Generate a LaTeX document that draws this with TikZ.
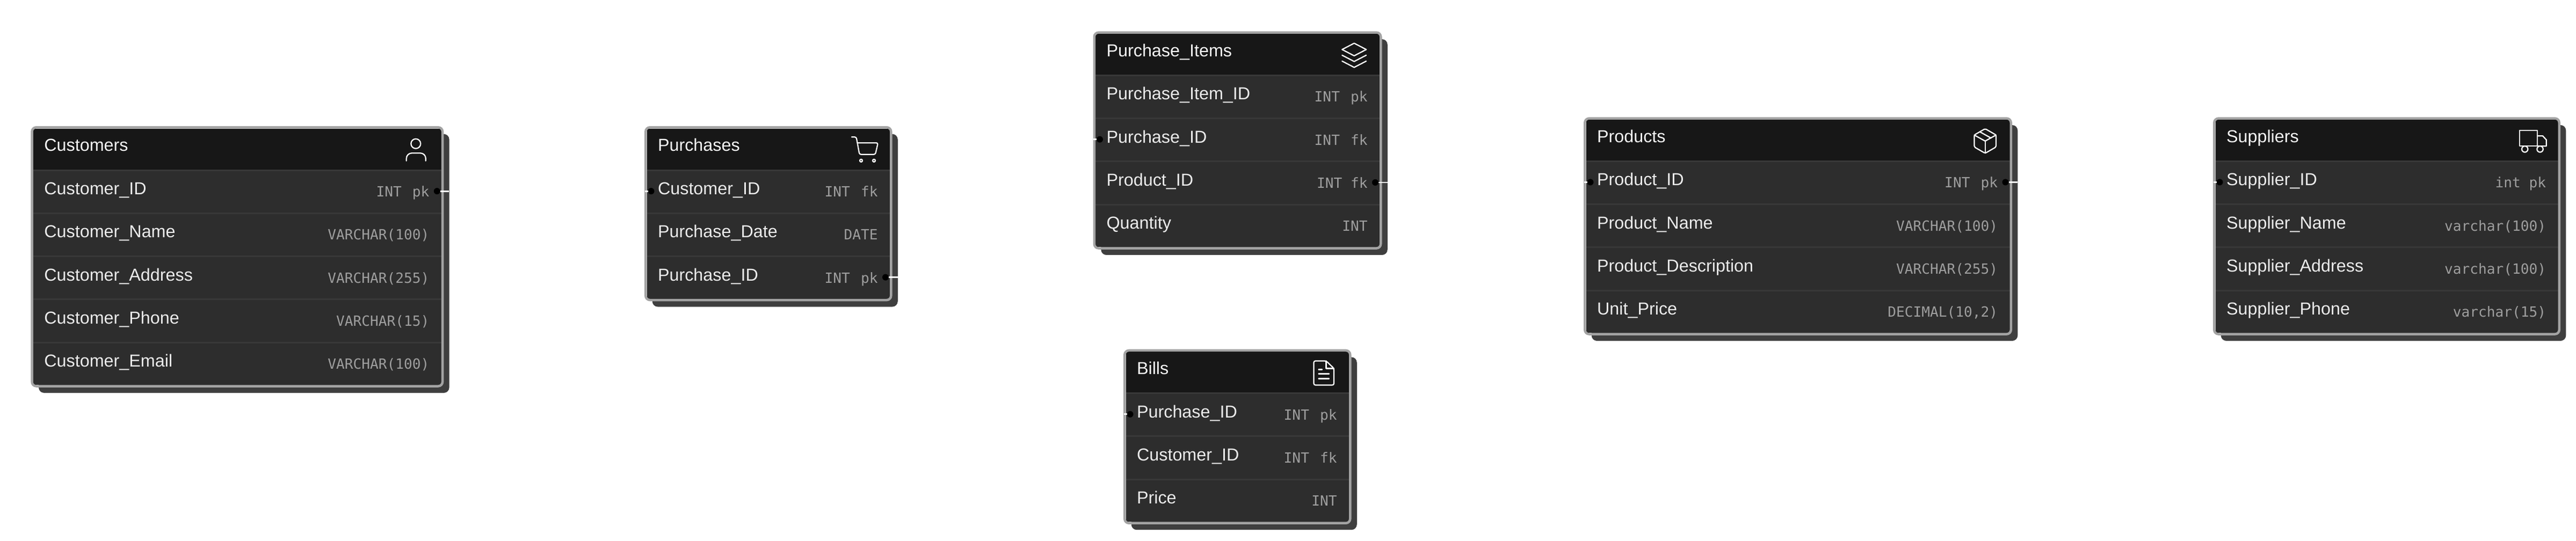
\documentclass[tikz,border=0pt]{standalone}
\usepackage{fontspec}
\setmainfont{Liberation Sans}
\setmonofont{DejaVu Sans Mono}
\usepackage{xcolor}
\usepackage{tikz}
\usetikzlibrary{positioning, fit, backgrounds}
\definecolor{headgrey}{HTML}{171717}
\definecolor{rowgrey}{HTML}{2D2D2D}
\definecolor{sepgrey}{HTML}{383838}
\definecolor{framegrey}{HTML}{A3A3A3}
\definecolor{shadowgrey}{HTML}{3F3F3F}
\tikzset{
  tablehead/.style={rectangle, fill=headgrey, text=white!96!black, outer sep=0pt, inner ysep=0pt, inner xsep=0.41cm, text width=#1-0.82cm, align=left, text height=0.844cm, text depth=0.686cm, font=\fontsize{18.4}{22}\selectfont},
  fieldrow/.style={rectangle, fill=rowgrey, text=white!92!black, outer sep=0pt, inner ysep=0pt, inner xsep=0.41cm, text width=#1-0.82cm, align=left, text height=0.93cm, text depth=0.675cm, font=\fontsize{18.4}{22}\selectfont, path picture={\draw[sepgrey, line width=0.1cm] (path picture bounding box.north west) -- (path picture bounding box.north east);}},
  fieldtype/.style={anchor=base east, xshift=-0.44cm, yshift=-0.08cm, inner sep=0pt, text=white!62!black, font=\fontsize{14.9}{18}\selectfont\ttfamily},
  tableframe/.style={rectangle, rounded corners=0.16cm, draw=framegrey, line width=0.09cm, inner sep=0.045cm, outer sep=0pt},
  shadowbox/.style={rectangle, rounded corners=0.2cm, fill=shadowgrey, inner sep=0pt, outer sep=0pt, xshift=0.25cm, yshift=-0.25cm},
  portdot/.style={circle, fill=black, minimum size=0.24cm, inner sep=0pt, outer sep=0pt},
  stub/.style={draw=white, line width=0.055cm},
  iconline/.style={draw=white, line width=0.045cm, line join=round, line cap=round}
}
\begin{document}
\begin{tikzpicture}
\useasboundingbox (0,0) rectangle (95.94,-20.14);

% Customers table
\node (customers_head) [tablehead=15.2cm, anchor=north west] at (1.236,-4.79) {Customers};
\node (customers_id) [fieldrow=15.2cm, below=0pt of customers_head] {Customer\_ID};
\node (customers_name) [fieldrow=15.2cm, below=0pt of customers_id] {Customer\_Name};
\node (customers_address) [fieldrow=15.2cm, below=0pt of customers_name] {Customer\_Address};
\node (customers_phone) [fieldrow=15.2cm, below=0pt of customers_address] {Customer\_Phone};
\node (customers_email) [fieldrow=15.2cm, below=0pt of customers_phone] {Customer\_Email};
\node (customers_id_type) [fieldtype] at (customers_id.base east) {INT~\,pk};
\node (customers_name_type) [fieldtype] at (customers_name.base east) {VARCHAR(100)};
\node (customers_address_type) [fieldtype] at (customers_address.base east) {VARCHAR(255)};
\node (customers_phone_type) [fieldtype] at (customers_phone.base east) {VARCHAR(15)};
\node (customers_email_type) [fieldtype] at (customers_email.base east) {VARCHAR(100)};
\node (customers) [tableframe, fit=(customers_head)(customers_email)] {};
% person icon
\draw [iconline, shift={(customers_head.east)}] (-0.95,0.2) circle (0.18);
\draw [iconline, shift={(customers_head.east)}, rounded corners=0.2cm] (-1.3,-0.44) -- (-1.3,-0.15) -- (-0.58,-0.15) -- (-0.58,-0.44);

% Purchases table
\node (purchases_head) [tablehead=9.05cm, anchor=north west] at (24.09,-4.79) {Purchases};
\node (purchases_customer) [fieldrow=9.05cm, below=0pt of purchases_head] {Customer\_ID};
\node (purchases_date) [fieldrow=9.05cm, below=0pt of purchases_customer] {Purchase\_Date};
\node (purchases_id) [fieldrow=9.05cm, below=0pt of purchases_date] {Purchase\_ID};
\node (purchases_customer_type) [fieldtype] at (purchases_customer.base east) {INT~\,fk};
\node (purchases_date_type) [fieldtype] at (purchases_date.base east) {DATE};
\node (purchases_id_type) [fieldtype] at (purchases_id.base east) {INT~\,pk};
\node (purchases) [tableframe, fit=(purchases_head)(purchases_id)] {};
% cart icon
\draw [iconline, shift={(purchases_head.east)}, rounded corners=0.06cm] (-1.42,0.45) -- (-1.25,0.45) -- (-1.13,-0.2) -- (-0.54,-0.2) -- (-0.44,0.23) -- (-1.21,0.23);
\draw [iconline, shift={(purchases_head.east)}] (-1.07,-0.43) circle (0.05);
\draw [iconline, shift={(purchases_head.east)}] (-0.59,-0.43) circle (0.05);

% Purchase_Items table
\node (items_head) [tablehead=10.58cm, anchor=north west] at (40.8,-1.256) {Purchase\_Items};
\node (items_id) [fieldrow=10.58cm, below=0pt of items_head] {Purchase\_Item\_ID};
\node (items_purchase) [fieldrow=10.58cm, below=0pt of items_id] {Purchase\_ID};
\node (items_product) [fieldrow=10.58cm, below=0pt of items_purchase] {Product\_ID};
\node (items_quantity) [fieldrow=10.58cm, below=0pt of items_product] {Quantity};
\node (items_id_type) [fieldtype] at (items_id.base east) {INT~\,pk};
\node (items_purchase_type) [fieldtype] at (items_purchase.base east) {INT~\,fk};
\node (items_product_type) [fieldtype] at (items_product.base east) {INT fk};
\node (items_quantity_type) [fieldtype] at (items_quantity.base east) {INT};
\node (items) [tableframe, fit=(items_head)(items_quantity)] {};
% layers icon
\draw [iconline, shift={(items_head.east)}] (-1.396,0.176) -- (-0.946,0.41) -- (-0.496,0.176) -- (-0.946,-0.058) -- cycle;
\draw [iconline, shift={(items_head.east)}] (-1.396,-0.036) -- (-0.946,-0.27) -- (-0.496,-0.036);
\draw [iconline, shift={(items_head.east)}] (-1.396,-0.256) -- (-0.946,-0.49) -- (-0.496,-0.256);

% Bills table
\node (bills_head) [tablehead=8.31cm, anchor=north west] at (41.93,-13.104) {Bills};
\node (bills_purchase) [fieldrow=8.31cm, below=0pt of bills_head] {Purchase\_ID};
\node (bills_customer) [fieldrow=8.31cm, below=0pt of bills_purchase] {Customer\_ID};
\node (bills_price) [fieldrow=8.31cm, below=0pt of bills_customer] {Price};
\node (bills_purchase_type) [fieldtype] at (bills_purchase.base east) {INT~\,pk};
\node (bills_customer_type) [fieldtype] at (bills_customer.base east) {INT~\,fk};
\node (bills_price_type) [fieldtype] at (bills_price.base east) {INT};
\node (bills) [tableframe, fit=(bills_head)(bills_price)] {};
% document icon
\draw [iconline, shift={(bills_head.east)}, rounded corners=0.06cm] (-1.31,0.42) -- (-0.85,0.42) -- (-0.56,0.14) -- (-0.56,-0.48) -- (-1.31,-0.48) -- cycle;
\draw [iconline, shift={(bills_head.east)}] (-0.85,0.42) -- (-0.85,0.14) -- (-0.56,0.14);
\draw [iconline, shift={(bills_head.east)}] (-1.13,0.1) -- (-1.0,0.1);
\draw [iconline, shift={(bills_head.east)}] (-1.13,-0.06) -- (-0.74,-0.06);
\draw [iconline, shift={(bills_head.east)}] (-1.13,-0.24) -- (-0.74,-0.24);

% Products table
\node (products_head) [tablehead=15.78cm, anchor=north west] at (59.07,-4.456) {Products};
\node (products_id) [fieldrow=15.78cm, below=0pt of products_head] {Product\_ID};
\node (products_name) [fieldrow=15.78cm, below=0pt of products_id] {Product\_Name};
\node (products_description) [fieldrow=15.78cm, below=0pt of products_name] {Product\_Description};
\node (products_price) [fieldrow=15.78cm, below=0pt of products_description] {Unit\_Price};
\node (products_id_type) [fieldtype] at (products_id.base east) {INT~\,pk};
\node (products_name_type) [fieldtype] at (products_name.base east) {VARCHAR(100)};
\node (products_description_type) [fieldtype] at (products_description.base east) {VARCHAR(255)};
\node (products_price_type) [fieldtype] at (products_price.base east) {DECIMAL(10,2)};
\node (products) [tableframe, fit=(products_head)(products_price)] {};
% box icon
\draw [iconline, shift={(products_head.east)}, rounded corners=0.04cm] (-0.916,0.424) -- (-0.51,0.19) -- (-0.51,-0.256) -- (-0.916,-0.49) -- (-1.322,-0.256) -- (-1.322,0.19) -- cycle;
\draw [iconline, shift={(products_head.east)}] (-1.322,0.19) -- (-0.916,-0.036) -- (-0.51,0.19);
\draw [iconline, shift={(products_head.east)}] (-0.916,-0.036) -- (-0.916,-0.49);
\draw [iconline, shift={(products_head.east)}] (-1.116,0.31) -- (-0.696,0.076);

% Suppliers table
\node (suppliers_head) [tablehead=12.76cm, anchor=north west] at (82.51,-4.456) {Suppliers};
\node (suppliers_id) [fieldrow=12.76cm, below=0pt of suppliers_head] {Supplier\_ID};
\node (suppliers_name) [fieldrow=12.76cm, below=0pt of suppliers_id] {Supplier\_Name};
\node (suppliers_address) [fieldrow=12.76cm, below=0pt of suppliers_name] {Supplier\_Address};
\node (suppliers_phone) [fieldrow=12.76cm, below=0pt of suppliers_address] {Supplier\_Phone};
\node (suppliers_id_type) [fieldtype] at (suppliers_id.base east) {int pk};
\node (suppliers_name_type) [fieldtype] at (suppliers_name.base east) {varchar(100)};
\node (suppliers_address_type) [fieldtype] at (suppliers_address.base east) {varchar(100)};
\node (suppliers_phone_type) [fieldtype] at (suppliers_phone.base east) {varchar(15)};
\node (suppliers) [tableframe, fit=(suppliers_head)(suppliers_phone)] {};
% truck icon
\draw [iconline, shift={(suppliers_head.east)}] (-1.424,0.356) rectangle (-0.77,-0.224);
\draw [iconline, shift={(suppliers_head.east)}] (-0.77,0.156) -- (-0.57,0.156) -- (-0.436,0.01) -- (-0.436,-0.224) -- (-0.77,-0.224);
\draw [iconline, fill=headgrey, shift={(suppliers_head.east)}] (-1.236,-0.336) circle (0.114);
\draw [iconline, fill=headgrey, shift={(suppliers_head.east)}] (-0.67,-0.336) circle (0.114);

% Shadows behind the tables
\begin{scope}[on background layer]
\node (customers_shadow) [shadowbox, fit=(customers)] {};
\node (purchases_shadow) [shadowbox, fit=(purchases)] {};
\node (items_shadow) [shadowbox, fit=(items)] {};
\node (bills_shadow) [shadowbox, fit=(bills)] {};
\node (products_shadow) [shadowbox, fit=(products)] {};
\node (suppliers_shadow) [shadowbox, fit=(suppliers)] {};
\end{scope}

% Ports on the key rows
\node (port_customers) [portdot, xshift=-0.16cm] at (customers_id.east) {};
\node (port_purchases_in) [portdot, xshift=0.16cm] at (purchases_customer.west) {};
\node (port_purchases_out) [portdot, xshift=-0.16cm] at (purchases_id.east) {};
\node (port_items_in) [portdot, xshift=0.16cm] at (items_purchase.west) {};
\node (port_items_out) [portdot, xshift=-0.16cm] at (items_product.east) {};
\node (port_bills) [portdot, xshift=0.16cm] at (bills_purchase.west) {};
\node (port_products_in) [portdot, xshift=0.16cm] at (products_id.west) {};
\node (port_products_out) [portdot, xshift=-0.16cm] at (products_id.east) {};
\node (port_suppliers) [portdot, xshift=0.16cm] at (suppliers_id.west) {};

% Free ends of the cut connectors
\coordinate [right=0.33cm of port_customers] (end_customers);
\coordinate [left=0.12cm of port_purchases_in] (end_purchases_in);
\coordinate [right=0.33cm of port_purchases_out] (end_purchases_out);
\coordinate [left=0.12cm of port_items_in] (end_items_in);
\coordinate [right=0.33cm of port_items_out] (end_items_out);
\coordinate [left=0.12cm of port_bills] (end_bills);
\coordinate [left=0.12cm of port_products_in] (end_products_in);
\coordinate [right=0.33cm of port_products_out] (end_products_out);
\coordinate [left=0.12cm of port_suppliers] (end_suppliers);

% Connector stubs
\draw [stub] (port_customers) -- (end_customers);
\draw [stub] (port_purchases_in) -- (end_purchases_in);
\draw [stub] (port_purchases_out) -- (end_purchases_out);
\draw [stub] (port_items_in) -- (end_items_in);
\draw [stub] (port_items_out) -- (end_items_out);
\draw [stub] (port_bills) -- (end_bills);
\draw [stub] (port_products_in) -- (end_products_in);
\draw [stub] (port_products_out) -- (end_products_out);
\draw [stub] (port_suppliers) -- (end_suppliers);

\end{tikzpicture}
\end{document}
